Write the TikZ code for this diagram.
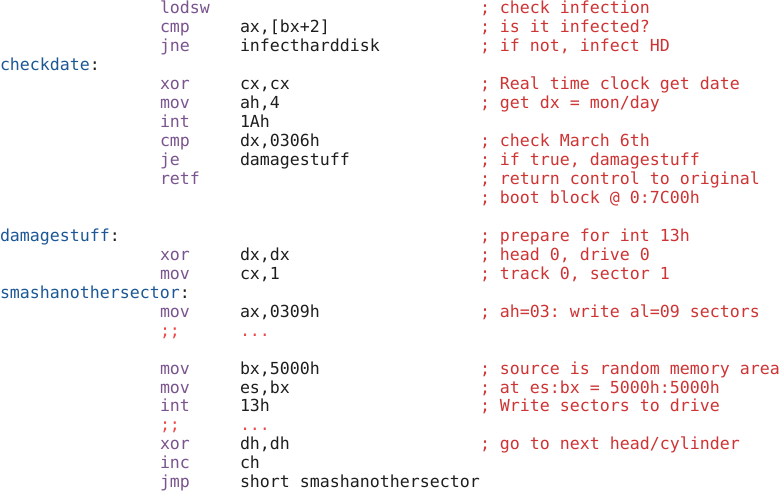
\documentclass[tikz,border=0pt]{standalone}
\usepackage{fontspec}
\setmonofont{DejaVu Sans Mono}
\definecolor{mncol}{RGB}{122,84,142}
\definecolor{lbcol}{RGB}{28,88,150}
\definecolor{cmcol}{RGB}{206,52,52}
\definecolor{dimcol}{RGB}{236,72,72}
\definecolor{opcol}{RGB}{30,30,30}
\tikzset{
  codetext/.style={inner sep=0pt, outer sep=0pt, anchor=base west, font=\ttfamily\fontsize{16.6}{19}\selectfont},
  lblstyle/.style={codetext, text=lbcol},
  mnstyle/.style={codetext, text=mncol},
  opstyle/.style={codetext, text=opcol},
  comstyle/.style={codetext, text=cmcol},
  dimstyle/.style={codetext, text=dimcol},
}
\newcommand{\rowy}[1]{-14-18.95*#1}
\newcommand{\Ln}[5]{\node[#3] (#1) at ({#4*10},{\rowy{#2}}) {#5};}
\begin{document}
\begin{tikzpicture}[x=1pt,y=1pt]
\useasboundingbox[fill=white] (0,0) rectangle (779,-492);
% row 0
\Ln{m0}{0}{mnstyle}{16}{lodsw}
\Ln{c0}{0}{comstyle}{48}{; check infection}
% row 1
\Ln{m1}{1}{mnstyle}{16}{cmp}
\Ln{o1}{1}{opstyle}{24}{ax,[bx+2]}
\Ln{c1}{1}{comstyle}{48}{; is it infected?}
% row 2
\Ln{m2}{2}{mnstyle}{16}{jne}
\Ln{o2}{2}{opstyle}{24}{infectharddisk}
\Ln{c2}{2}{comstyle}{48}{; if not, infect HD}
% row 3
\Ln{l3}{3}{lblstyle}{0}{checkdate\textcolor{opcol}{:}}
% row 4
\Ln{m4}{4}{mnstyle}{16}{xor}
\Ln{o4}{4}{opstyle}{24}{cx,cx}
\Ln{c4}{4}{comstyle}{48}{; Real time clock get date}
% row 5
\Ln{m5}{5}{mnstyle}{16}{mov}
\Ln{o5}{5}{opstyle}{24}{ah,4}
\Ln{c5}{5}{comstyle}{48}{; get dx = mon/day}
% row 6
\Ln{m6}{6}{mnstyle}{16}{int}
\Ln{o6}{6}{opstyle}{24}{1Ah}
% row 7
\Ln{m7}{7}{mnstyle}{16}{cmp}
\Ln{o7}{7}{opstyle}{24}{dx,0306h}
\Ln{c7}{7}{comstyle}{48}{; check March 6th}
% row 8
\Ln{m8}{8}{mnstyle}{16}{je}
\Ln{o8}{8}{opstyle}{24}{damagestuff}
\Ln{c8}{8}{comstyle}{48}{; if true, damagestuff}
% row 9
\Ln{m9}{9}{mnstyle}{16}{retf}
\Ln{c9}{9}{comstyle}{48}{; return control to original}
% row 10
\Ln{c10}{10}{comstyle}{48}{; boot block @ 0:7C00h}
% row 12
\Ln{l12}{12}{lblstyle}{0}{damagestuff\textcolor{opcol}{:}}
\Ln{c12}{12}{comstyle}{48}{; prepare for int 13h}
% row 13
\Ln{m13}{13}{mnstyle}{16}{xor}
\Ln{o13}{13}{opstyle}{24}{dx,dx}
\Ln{c13}{13}{comstyle}{48}{; head 0, drive 0}
% row 14
\Ln{m14}{14}{mnstyle}{16}{mov}
\Ln{o14}{14}{opstyle}{24}{cx,1}
\Ln{c14}{14}{comstyle}{48}{; track 0, sector 1}
% row 15
\Ln{l15}{15}{lblstyle}{0}{smashanothersector\textcolor{opcol}{:}}
% row 16
\Ln{m16}{16}{mnstyle}{16}{mov}
\Ln{o16}{16}{opstyle}{24}{ax,0309h}
\Ln{c16}{16}{comstyle}{48}{; ah=03: write al=09 sectors}
% row 17
\Ln{m17}{17}{dimstyle}{16}{;;}
\Ln{o17}{17}{dimstyle}{24}{...}
% row 19
\Ln{m19}{19}{mnstyle}{16}{mov}
\Ln{o19}{19}{opstyle}{24}{bx,5000h}
\Ln{c19}{19}{comstyle}{48}{; source is random memory area}
% row 20
\Ln{m20}{20}{mnstyle}{16}{mov}
\Ln{o20}{20}{opstyle}{24}{es,bx}
\Ln{c20}{20}{comstyle}{48}{; at es:bx = 5000h:5000h}
% row 21
\Ln{m21}{21}{mnstyle}{16}{int}
\Ln{o21}{21}{opstyle}{24}{13h}
\Ln{c21}{21}{comstyle}{48}{; Write sectors to drive}
% row 22
\Ln{m22}{22}{dimstyle}{16}{;;}
\Ln{o22}{22}{dimstyle}{24}{...}
% row 23
\Ln{m23}{23}{mnstyle}{16}{xor}
\Ln{o23}{23}{opstyle}{24}{dh,dh}
\Ln{c23}{23}{comstyle}{48}{; go to next head/cylinder}
% row 24
\Ln{m24}{24}{mnstyle}{16}{inc}
\Ln{o24}{24}{opstyle}{24}{ch}
% row 25
\Ln{m25}{25}{mnstyle}{16}{jmp}
\Ln{o25}{25}{opstyle}{24}{short smashanothersector}
\end{tikzpicture}
\end{document}
